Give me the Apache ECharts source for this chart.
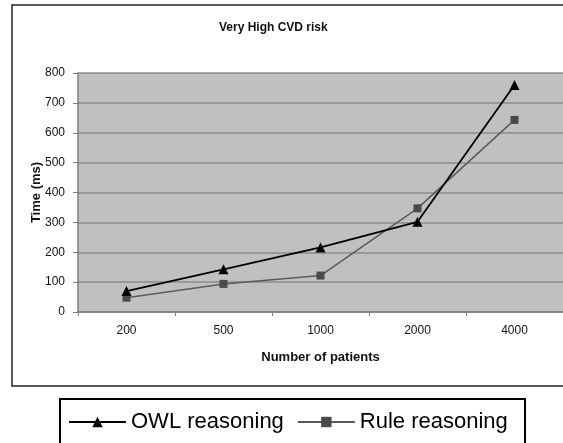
<!DOCTYPE html>
<html>
<head>
<meta charset="utf-8">
<style>
  html, body { margin: 0; padding: 0; background: #fff; }
  #chart { width: 563px; height: 443px; }
</style>
<script src="https://cdn.jsdelivr.net/npm/echarts@6/dist/echarts.min.js"></script>
</head>
<body>
<div id="chart"></div>
<script>
const categories = ['200', '500', '1000', '2000', '4000'];
const owlReasoning = [70, 143, 216, 302, 760];
const ruleReasoning = [48, 94, 122, 347, 643];
const yTicks = { min: 0, max: 800, interval: 100 };

const FONT = "'Liberation Sans', Arial, sans-serif";
const chart = echarts.init(document.getElementById('chart'), null, { renderer: 'canvas' });

chart.setOption({
  animation: false,
  backgroundColor: '#ffffff',
  title: {
    text: 'Very High CVD risk',
    left: 214,
    top: 17,
    padding: 5,
    textStyle: { fontFamily: FONT, fontSize: 12, fontWeight: 'bold', color: '#111' }
  },
  grid: {
    left: 78,
    right: -3,
    top: 73,
    bottom: 131,
    show: true,
    backgroundColor: '#c0c0c0',
    borderWidth: 0
  },
  legend: {
    left: 68,
    top: 411,
    padding: 0,
    itemWidth: 57,
    itemHeight: 13,
    itemGap: 13,
    textStyle: { fontFamily: FONT, fontSize: 22, color: '#000' },
    data: ['OWL reasoning', 'Rule reasoning']
  },
  xAxis: {
    type: 'category',
    data: categories,
    boundaryGap: true,
    name: 'Number of patients',
    nameLocation: 'middle',
    nameGap: 39,
    nameMoveOverlap: false,
    nameTextStyle: { fontFamily: FONT, fontSize: 13, fontWeight: 'bold', color: '#111' },
    axisLine: { lineStyle: { color: '#808080', width: 1.5 } },
    axisTick: { show: true, alignWithLabel: false, length: 4, lineStyle: { color: '#808080' } },
    axisLabel: { fontFamily: FONT, fontSize: 12, color: '#111', margin: 13 },
    splitLine: { show: false }
  },
  yAxis: {
    type: 'value',
    min: yTicks.min,
    max: yTicks.max,
    interval: yTicks.interval,
    name: 'Time (ms)',
    nameLocation: 'middle',
    nameGap: 35,
    nameMoveOverlap: false,
    nameTextStyle: { fontFamily: FONT, fontSize: 13, fontWeight: 'bold', color: '#111' },
    axisLine: { show: true, lineStyle: { color: '#808080', width: 1.5 } },
    axisTick: { show: true, length: 5, lineStyle: { color: '#808080' } },
    axisLabel: { fontFamily: FONT, fontSize: 12, color: '#111', margin: 13 },
    splitLine: { show: true, lineStyle: { color: '#8c8c8c', width: 1.5 } }
  },
  series: [
    {
      name: 'OWL reasoning',
      type: 'line',
      data: owlReasoning,
      symbol: 'triangle',
      symbolSize: 10,
      itemStyle: { color: '#000' },
      lineStyle: { color: '#000', width: 1.8 },
      z: 3
    },
    {
      name: 'Rule reasoning',
      type: 'line',
      data: ruleReasoning,
      symbol: 'rect',
      symbolSize: 8,
      itemStyle: { color: '#4a4a4a' },
      lineStyle: { color: '#5a5a5a', width: 1.5 },
      z: 2
    }
  ],
  graphic: [
    {
      type: 'rect',
      shape: { x: 12, y: 5, width: 560, height: 381 },
      style: { fill: null, stroke: '#222', lineWidth: 1.5 },
      silent: true,
      z: -1
    },
    {
      type: 'rect',
      shape: { x: 60, y: 399, width: 465, height: 60 },
      style: { fill: null, stroke: '#000', lineWidth: 2 },
      silent: true
    }
  ]
});
</script>
</body>
</html>
